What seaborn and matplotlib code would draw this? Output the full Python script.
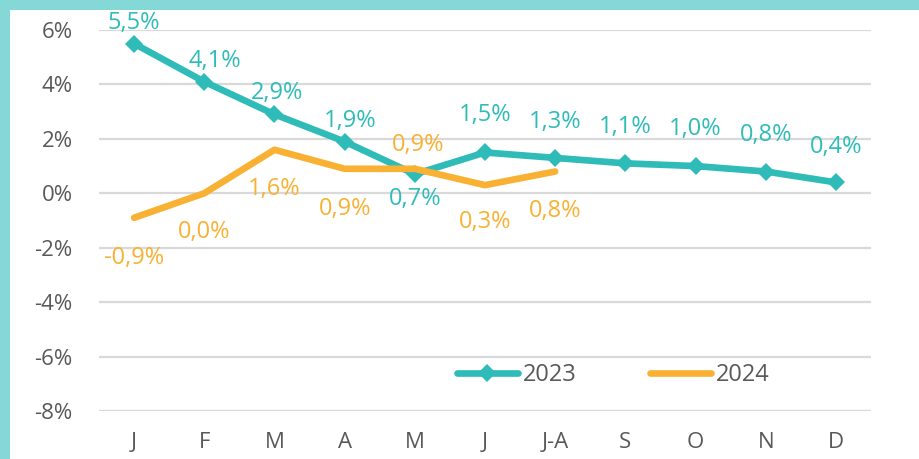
import numpy as np
import pandas as pd
import matplotlib
matplotlib.use("Agg")
import matplotlib.pyplot as plt
import seaborn as sns
from matplotlib.patches import Rectangle

# --- data ---
months = ["J", "F", "M", "A", "M", "J", "J-A", "S", "O", "N", "D"]
values_2023 = [5.5, 4.1, 2.9, 1.9, 0.7, 1.5, 1.3, 1.1, 1.0, 0.8, 0.4]
values_2024 = [-0.9, 0.0, 1.6, 0.9, 0.9, 0.3, 0.8]
yticks = [-8, -6, -4, -2, 0, 2, 4, 6]

# label offsets in pixels (dx, dy), positive dy = above the point
offsets_2023 = [(0, 21), (11, 21), (3, 21), (5, 21), (0, -25), (0, 37),
                (0, 36), (0, 36), (0, 37), (0, 37), (0, 35)]
offsets_2024 = [(0, -40), (0, -39), (0, -39), (0, -40), (3, 24), (0, -37), (0, -39)]

TEAL = "#2FBCB9"
ORANGE = "#F8B133"
GREY = "#595959"
BORDER = "#84D8D6"

sns.set_style("white")
plt.rcParams["font.family"] = ["Open Sans", "DejaVu Sans"]

df23 = pd.DataFrame({"pos": np.arange(len(values_2023)), "val": values_2023})
df24 = pd.DataFrame({"pos": np.arange(len(values_2024)), "val": values_2024})

fig = plt.figure(figsize=(9.19, 4.59), dpi=100, facecolor=BORDER)
fig.patches.append(Rectangle((10 / 919, 0), 1, 1 - 10 / 459, transform=fig.transFigure,
                             facecolor="white", edgecolor="none", zorder=-10))
ax = fig.add_axes([99 / 919, 48 / 459, 772 / 919, 381 / 459])
ax.set_facecolor("none")

sns.lineplot(data=df23, x="pos", y="val", color=TEAL, marker="D", label="2023",
             linewidth=4.8, markersize=9, markeredgewidth=0,
             solid_capstyle="round", ax=ax)
sns.lineplot(data=df24, x="pos", y="val", color=ORANGE, label="2024",
             linewidth=4.8, solid_capstyle="round", ax=ax)

for i, v in enumerate(values_2023):
    ax.annotate(f"{v:.1f}%".replace(".", ","), (i, v), xytext=offsets_2023[i],
                textcoords="offset pixels", ha="center", va="center",
                color=TEAL, fontsize=17)
for i, v in enumerate(values_2024):
    ax.annotate(f"{v:.1f}%".replace(".", ","), (i, v), xytext=offsets_2024[i],
                textcoords="offset pixels", ha="center", va="center",
                color=ORANGE, fontsize=17)

ax.set_xlim(-0.5, len(months) - 0.5)
ax.set_ylim(-8, 6)
ax.set_xticks(range(len(months)))
ax.set_xticklabels(months)
ax.set_yticks(yticks)
ax.set_yticklabels([f"{t}%" for t in yticks])
ax.tick_params(axis="both", length=0, labelsize=16, labelcolor=GREY)
ax.tick_params(axis="y", pad=19)
ax.tick_params(axis="x", pad=15)
ax.grid(axis="y", color="#D9D9D9", linewidth=1.6)
ax.set_axisbelow(True)
sns.despine(ax=ax, left=True, bottom=True)
ax.set_xlabel("")
ax.set_ylabel("")

handles, labels = ax.get_legend_handles_labels()
leg = ax.legend(handles, labels, loc="center", bbox_to_anchor=(0.666, 0.094),
                ncol=2, frameon=False, fontsize=17, handlelength=2.6,
                handletextpad=0.2, columnspacing=3.1, labelcolor=GREY)

fig.savefig("out.png", dpi=100, facecolor=fig.get_facecolor())
